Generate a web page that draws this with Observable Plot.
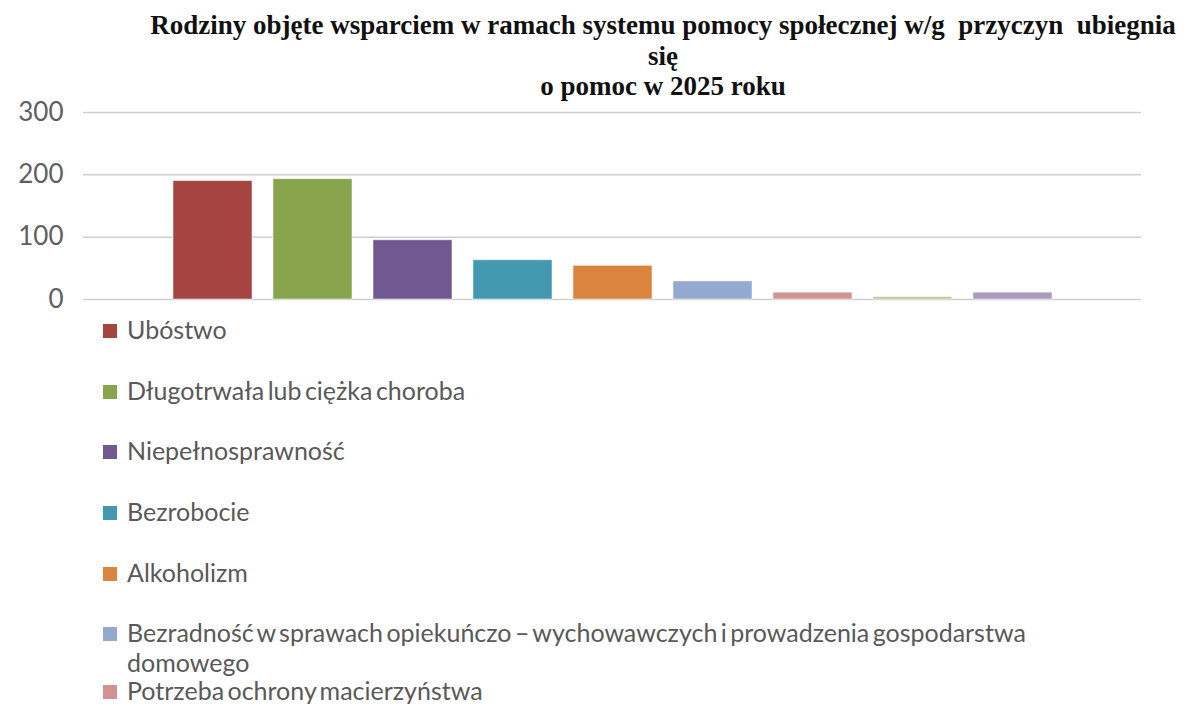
<!DOCTYPE html>
<html>
<head>
<meta charset="utf-8">
<script src="https://cdn.jsdelivr.net/npm/d3@7"></script>
<script src="https://cdn.jsdelivr.net/npm/@observablehq/plot@0.6"></script>
<style>
  html, body { margin: 0; padding: 0; background: #fff; width: 1188px; height: 705px; overflow: hidden; }
  #wrap { position: relative; width: 1188px; height: 705px; }
  #title { position: absolute; left: 138px; width: 1050px; top: 10px; text-align: center;
           font-family: "Liberation Serif", "Times New Roman", serif; font-weight: bold;
           font-size: 27px; line-height: 30.5px; color: #111; letter-spacing: 0px; }
  #chart { position: absolute; left: 0; top: 80px; }
  #legend { position: absolute; left: 103px; top: 313px; font-family: Lato, "Open Sans", sans-serif;
            font-size: 25px; color: #595959; word-spacing: -3px; }
  .item { position: absolute; left: 0; width: 960px; display: flex; align-items: flex-start; }
  .sw { width: 14px; height: 14px; flex: none; margin-top: 11px; margin-right: 10px; }
  .lab { line-height: 30px; margin-top: 1px; white-space: normal; }
</style>
</head>
<body>
<div id="wrap">
  <div id="title"></div>
  <div id="chart"></div>
  <div id="legend"></div>
</div>
<script>
const titleLines = [
  "Rodziny objęte wsparciem w ramach systemu pomocy społecznej w/g\u00a0 przyczyn\u00a0 ubiegnia",
  "się",
  "o pomoc w 2025 roku"
];
const categories = [
  "Ubóstwo",
  "Długotrwała lub ciężka choroba",
  "Niepełnosprawność",
  "Bezrobocie",
  "Alkoholizm",
  "Bezradność w sprawach opiekuńczo – wychowawczych i prowadzenia gospodarstwa domowego",
  "Potrzeba ochrony macierzyństwa",
  "Przemoc domowa",
  "Bezdomność"
];
const values = [190, 193, 95, 63, 54, 29, 11, 4, 11];
const colors = ["#A64442", "#88A44C", "#715891", "#4198AF", "#DB843D", "#93A9CF", "#D19392", "#B9CD96", "#A99BBD"];
const yTicks = [0, 100, 200, 300];
const legendVisible = 7;

document.getElementById("title").innerHTML = titleLines.map(t => `<div>${t}</div>`).join("");

const data = categories.map((c, i) => ({category: c, value: values[i], color: colors[i]}));

const chart = Plot.plot({
  width: 1188,
  height: 250,
  marginTop: 32,
  marginBottom: 31,
  marginLeft: 83,
  marginRight: 47,
  x: {domain: categories, paddingInner: 0.21, paddingOuter: 0.87, axis: null},
  y: {domain: [0, 300], ticks: yTicks},
  color: {domain: categories, range: colors},
  marks: [
    Plot.gridY(yTicks, {stroke: "#cfcfcf", strokeOpacity: 1, strokeWidth: 1.5}),
    Plot.barY(data, {x: "category", y: "value", fill: "category", stroke: "#ffffff", strokeOpacity: 0.5, strokeWidth: 1}),
    Plot.axisY(yTicks, {tickSize: 0, tickPadding: 20, fontSize: 26, fill: "#5f5f5f", fontFamily: "Lato, 'Open Sans', sans-serif", label: null})
  ]
});
document.getElementById("chart").appendChild(chart);

const tops = [0, 61, 121, 182, 243, 303, 361];
const legend = document.getElementById("legend");
data.slice(0, legendVisible).forEach((d, i) => {
  const item = document.createElement("div");
  item.className = "item";
  item.style.top = tops[i] + "px";
  item.innerHTML = `<div class="sw" style="background:${d.color}"></div><div class="lab">${d.category}</div>`;
  legend.appendChild(item);
});
</script>
</body>
</html>
